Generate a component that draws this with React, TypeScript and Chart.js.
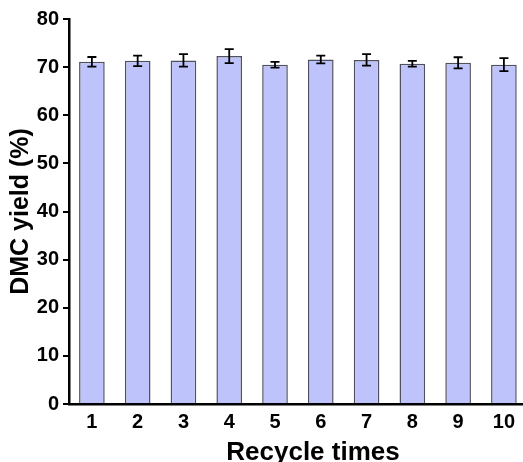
import { useEffect, useRef } from "react";
import { Chart, registerables } from "chart.js";

Chart.register(...registerables);

const categories = ["1", "2", "3", "4", "5", "6", "7", "8", "9", "10"];
const yieldValues = [71.1, 71.3, 71.4, 72.3, 70.5, 71.6, 71.5, 70.7, 70.9, 70.5];
const yieldErrors = [1.0, 1.1, 1.3, 1.45, 0.6, 0.8, 1.2, 0.6, 1.15, 1.35];
const yTicks = [0, 10, 20, 30, 40, 50, 60, 70, 80];
const xTitle = "Recycle times";
const yTitle = "DMC yield (%)";

const FONT = "'Liberation Sans', Arial, Helvetica, sans-serif";

const errorBarPlugin = {
  id: "errorBars",
  afterDatasetsDraw(chart: any) {
    const { ctx } = chart;
    const y = chart.scales.y;
    const meta = chart.getDatasetMeta(0);
    ctx.save();
    ctx.strokeStyle = "#000";
    ctx.lineWidth = 1.8;
    meta.data.forEach((bar: any, i: number) => {
      const cx = bar.x;
      const top = y.getPixelForValue(yieldValues[i] + yieldErrors[i]);
      const bot = y.getPixelForValue(yieldValues[i] - yieldErrors[i]);
      const cap = 4.5;
      ctx.beginPath();
      ctx.moveTo(cx, top);
      ctx.lineTo(cx, bot);
      ctx.moveTo(cx - cap, top);
      ctx.lineTo(cx + cap, top);
      ctx.moveTo(cx - cap, bot);
      ctx.lineTo(cx + cap, bot);
      ctx.stroke();
    });
    ctx.restore();
  },
};

// The original axis runs past the cropped right edge of the picture.
const extendAxisPlugin = {
  id: "extendAxis",
  afterLayout(chart: any) {
    const xs = chart.scales.x;
    xs.right = xs.right + 34;
    xs.width = xs.right - xs.left;
    xs.configure();
  },
};

export default function App() {
  const ref = useRef<HTMLCanvasElement | null>(null);

  useEffect(() => {
    if (!ref.current) return;
    const chart = new Chart(ref.current, {
      type: "bar",
      data: {
        datasets: [
          {
            data: yieldValues.map((v, i) => ({ x: Number(categories[i]), y: v })),
            backgroundColor: "#BEC4FB",
            borderColor: "#50505E",
            borderWidth: 1.5,
            barPercentage: 0.56,
            categoryPercentage: 1,
          },
        ],
      },
      options: {
        animation: false,
        responsive: false,
        devicePixelRatio: 1,
        layout: { padding: { top: 19, right: 0, bottom: -6, left: 0 } },
        plugins: {
          legend: { display: false },
          tooltip: { enabled: false },
        },
        scales: {
          x: {
            type: "linear",
            min: 0.5,
            max: 11.16,
            offset: false,
            grid: { display: false, drawTicks: false },
            border: { display: true, color: "#000", width: 2.5 },
            afterBuildTicks: (scale: any) => {
              scale.ticks = categories.map((c) => ({ value: Number(c) }));
            },
            afterFit: (scale: any) => {
              scale.height = 64;
            },
            ticks: {
              autoSkip: false,
              maxRotation: 0,
              padding: 6,
              color: "#000",
              font: { family: FONT, size: 20, weight: "bold" },
              callback: (value: any) => {
                const idx = categories.indexOf(String(value));
                return idx >= 0 ? categories[idx] : "";
              },
            },
            title: {
              display: true,
              text: xTitle,
              color: "#000",
              font: { family: FONT, size: 26, weight: "bold" },
              padding: { top: 0, bottom: 0 },
            },
          },
          y: {
            min: 0,
            max: 80,
            afterBuildTicks: (scale: any) => {
              scale.ticks = yTicks.map((v) => ({ value: v }));
            },
            afterFit: (scale: any) => {
              scale.width = 69;
            },
            grid: {
              drawOnChartArea: false,
              drawTicks: true,
              tickLength: 6,
              color: "#000",
              lineWidth: 2,
            },
            border: { display: true, color: "#000", width: 2.5 },
            ticks: {
              padding: 4,
              color: "#000",
              font: { family: FONT, size: 20, weight: "bold" },
            },
            title: {
              display: true,
              text: yTitle,
              color: "#000",
              font: { family: FONT, size: 25, weight: "bold" },
              padding: { top: 6, bottom: 0 },
            },
          },
        },
      } as any,
      plugins: [errorBarPlugin, extendAxisPlugin],
    });
    return () => chart.destroy();
  }, []);

  return (
    <div
      style={{
        position: "fixed",
        left: 0,
        top: 0,
        width: 523,
        height: 462,
        background: "#fff",
        overflow: "hidden",
      }}
    >
      <canvas ref={ref} width={523} height={462} style={{ display: "block" }} />
    </div>
  );
}
